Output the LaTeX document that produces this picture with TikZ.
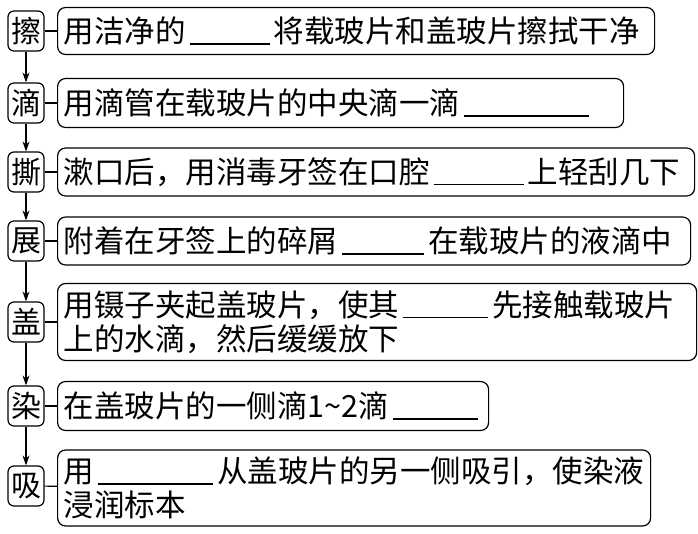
\documentclass[tikz,border=0pt]{standalone}
\usepackage{fontspec}
\newfontfamily\cjk{Noto Sans CJK SC}
\usetikzlibrary{arrows.meta}
\newcommand{\blank}[1]{\hspace{4pt}\rule[-2pt]{#1pt}{1.2pt}\hspace{4pt}}

\begin{document}
\begin{tikzpicture}[x=1pt,y=-1pt,line width=1.2pt,
        stepbox/.style={draw,rounded corners=6pt,minimum width=36pt,minimum height=40pt,inner sep=0pt,font=\cjk\fontsize{30}{30}\selectfont},
        textbox/.style={draw,rounded corners=8pt,anchor=west,inner xsep=6pt,inner ysep=0pt,align=left,font=\cjk\fontsize{30.5}{34}\selectfont},
        flow/.style={-{Stealth[length=10pt,width=7pt]}}]
        \useasboundingbox (0,0) rectangle (698,533);
        % Draw step boxes
        \node[stepbox] (s1) at (26,31) {擦};
        \node[stepbox] (s2) at (26,103) {滴};
        \node[stepbox] (s3) at (26,172) {撕};
        \node[stepbox] (s4) at (26,241) {展};
        \node[stepbox] (s5) at (26,322) {盖};
        \node[stepbox] (s6) at (26,406) {染};
        \node[stepbox] (s7) at (26,486) {吸};
        
        % Draw text boxes
        \node[textbox,text width=585pt,minimum height=47pt] (b1) at (57,31) {用洁净的\blank{80}将载玻片和盖玻片擦拭干净};
        \node[textbox,text width=554pt,minimum height=49pt] (b2) at (57,103) {用滴管在载玻片的中央滴一滴\blank{125}};
        \node[textbox,text width=625pt,minimum height=48pt] (b3) at (57,172) {漱口后，用消毒牙签在口腔\blank{90}上轻刮几下};
        \node[textbox,text width=621pt,minimum height=48pt] (b4) at (57,241) {附着在牙签上的碎屑\blank{82}在载玻片的液滴中};
        \node[textbox,text width=627pt,minimum height=77pt] (b5) at (57,322) {用镊子夹起盖玻片，使其\blank{85}先接触载玻片\\上的水滴，然后缓缓放下};
        \node[textbox,text width=419pt,minimum height=49pt] (b6) at (57,406) {在盖玻片的一侧滴1\textasciitilde 2滴\blank{85}};
        \node[textbox,text width=581pt,minimum height=76pt] (b7) at (57,488) {用\blank{115}从盖玻片的另一侧吸引，使染液\\浸润标本};
        
        % Draw arrows and ticks
        \foreach \i/\j in {1/2,2/3,3/4,4/5,5/6,6/7}
            \draw[flow] (s\i) -- (s\j);
        \foreach \i in {1,...,7}
            \draw (s\i) -- (b\i);
    \end{tikzpicture}
\end{document}
